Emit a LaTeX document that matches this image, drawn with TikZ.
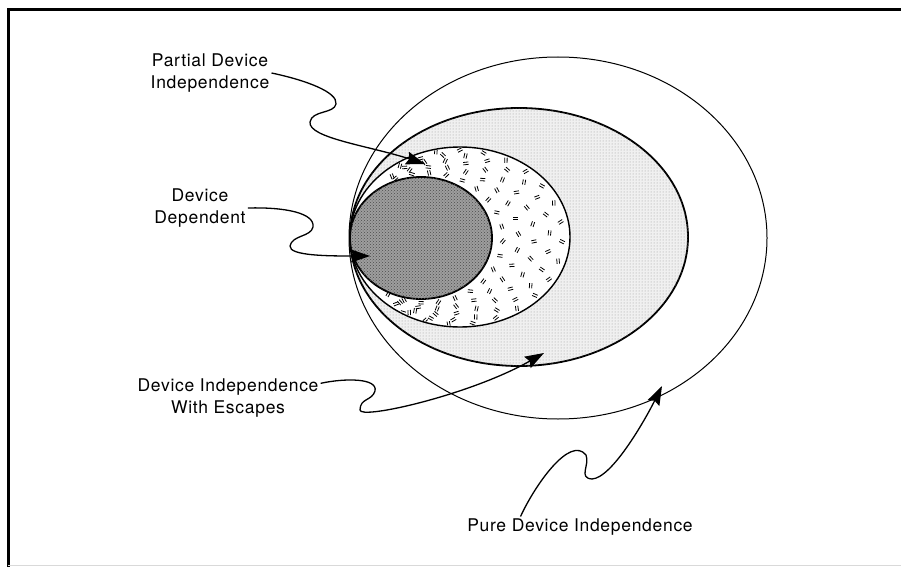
\documentclass[tikz,border=0pt]{standalone}
\usepackage{fontspec}
\setmainfont{TeX Gyre Heros}
\newfontfamily\labelfont[LetterSpace=4]{TeX Gyre Heros}
\usetikzlibrary{arrows.meta, positioning, shapes.geometric, patterns}

\begin{document}
\begin{tikzpicture}[x=1pt, y=-1pt,
    caption/.style={align=center, inner sep=2pt, font=\labelfont\fontsize{17.5}{22}\selectfont},
    pointer/.style={line width=1.3pt, -{Stealth[length=19pt, width=13pt, inset=2.5pt]}},
    rim/.style={ellipse, draw, line width=1.4pt, inner sep=0pt},
    dash pair/.pic={\draw[line width=0.8pt] (-1.2,-2.6) -- (-1.2,2.6) (1.2,-2.6) -- (1.2,2.6);}]

  \useasboundingbox (0,0) rectangle (901,567);
  % frame
  \draw[line width=3pt] (8,567) -- (8,10) -- (901,10);
  \draw[black!15, line width=1pt] (8,565) -- (901,565);

  % nested regions
  \node[rim, line width=1pt, fill=white, minimum width=418, minimum height=362] (pure ring) at (558,238) {};
  \node[rim, line width=1.8pt, fill=black!6, postaction={pattern=dots, pattern color=black!40},
        minimum width=338, minimum height=258] (escape ring) at (519,237) {};
  \node[rim, fill=white, minimum width=220, minimum height=180] (partial ring) at (460,237) {};
  \begin{scope}
    \clip (460,237) ellipse [x radius=109, y radius=89];
    \foreach \s [count=\k] in {0.14,0.34,0.54,0.74,0.9} {
      \foreach \t in {-120,-107,...,120} {
        \pgfmathsetmacro\mx{421+39*\s+(71+39*\s)*cos(\t+6*mod(\k,2))}
        \pgfmathsetmacro\my{238-\s+(61+29*\s)*sin(\t+6*mod(\k,2))}
        \pgfmathsetmacro\rot{mod(\t*37+\k*71,180)}
        \pic[rotate=\rot] at (\mx,\my) {dash pair};
      }
    }
  \end{scope}
  \node[rim, line width=1.8pt, fill=black!38, postaction={pattern=crosshatch dots, pattern color=black!70},
        minimum width=142, minimum height=122] (dependent) at (421,238) {};

  % labels
  \node[caption] (pdi label) at (210,73) {Partial Device\\Independence};
  \node[caption] (dd label) at (200,208) {Device\\Dependent};
  \node[caption] (die label) at (228,398) {Device Independence\\With Escapes};
  \node[caption] (pure label) at (580,527) {Pure Device Independence};

  \coordinate (tip pdi) at (425,164);
  \coordinate (tip dd) at (370,256);
  \coordinate (tip die) at (544,353);
  \coordinate (tip pure) at (662,386);

  % pointers
  \draw[pointer] (pdi label.east) .. controls (305,80) and (338,92) .. (336,104)
    .. controls (334,114) and (312,110) .. (310,122)
    .. controls (308,138) and (370,146) .. (tip pdi);
  \draw[pointer] (dd label.east) .. controls (285,207) and (315,213) .. (313,227)
    .. controls (311,237) and (292,235) .. (290,246)
    .. controls (289,256) and (330,256) .. (tip dd);
  \draw[pointer] (die label.9) .. controls (345,378) and (378,378) .. (375,391)
    .. controls (372,401) and (360,398) .. (360,410)
    .. controls (360,420) and (470,395) .. (tip die);
  \draw[pointer] (pure label.170) .. controls (535,485) and (570,435) .. (586,455)
    .. controls (590,465) and (578,478) .. (592,479)
    .. controls (612,478) and (645,420) .. (tip pure);
\end{tikzpicture}
\end{document}
